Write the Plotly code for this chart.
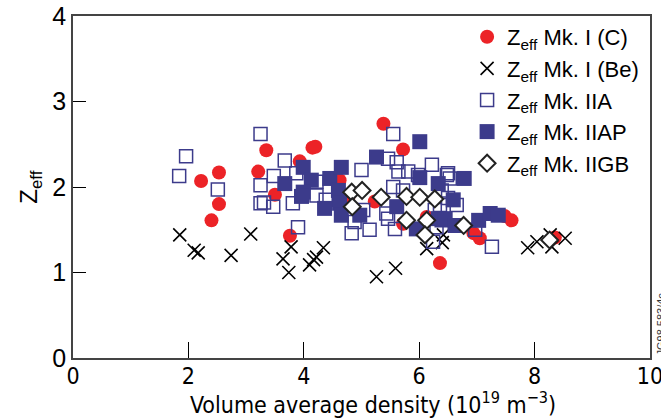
import plotly.graph_objects as go

# Mk. I (C) - red circles
c_x = [2.22, 2.53, 2.53, 2.40, 3.35, 4.15, 4.20, 3.93, 3.21, 3.50, 4.62, 3.76, 4.77,
       5.38, 5.72, 5.23, 5.72, 6.13, 6.36, 7.60, 7.48, 6.94, 7.05, 8.35]
c_y = [2.07, 2.17, 1.80, 1.61, 2.43, 2.46, 2.47, 2.30, 2.18, 1.91, 2.08, 1.43, 1.87,
       2.74, 2.44, 1.83, 1.57, 1.65, 1.11, 1.61, 1.66, 1.46, 1.40, 1.41]

# Mk. I (Be) - crosses
be_x = [1.85, 2.10, 2.17, 2.74, 3.08, 3.78, 3.64, 3.74, 4.10, 4.17, 4.22, 4.34, 5.26,
        5.59, 6.13, 6.42, 6.40, 7.88, 8.04, 8.27, 8.30, 8.53]
be_y = [1.44, 1.26, 1.23, 1.20, 1.45, 1.30, 1.16, 1.00, 1.09, 1.15, 1.18, 1.29, 0.95,
        1.05, 1.28, 1.44, 1.35, 1.29, 1.36, 1.44, 1.30, 1.40]

# Mk. IIA - open squares
a_x = [1.96, 1.84, 2.51, 3.25, 3.25, 3.25, 3.67, 3.48, 3.31, 3.47, 3.81, 3.87, 3.90,
       4.22, 4.22, 4.38, 4.83, 5.00, 5.55, 5.46, 5.61, 5.64, 5.81, 6.22, 5.98, 6.48,
       5.55, 6.39, 5.03, 4.88, 5.43, 5.46, 5.58, 5.14, 6.27, 6.39, 6.24, 6.36, 6.50,
       6.53, 6.65, 6.50, 6.97, 7.26, 5.72, 6.30]
a_y = [2.36, 2.13, 1.97, 2.62, 2.02, 1.81, 2.31, 2.13, 1.82, 1.77, 1.81, 2.16, 1.53,
       2.06, 1.90, 1.85, 1.46, 2.20, 2.62, 2.33, 2.29, 2.18, 2.18, 2.26, 2.14, 2.14,
       2.00, 1.96, 1.73, 1.59, 1.69, 1.63, 1.51, 1.50, 1.73, 1.61, 1.36, 1.79, 2.16,
       2.10, 1.79, 1.87, 1.50, 1.30, 1.96, 1.53]

# Mk. IIAP - filled squares
ap_x = [3.99, 3.67, 4.13, 3.99, 3.96, 4.45, 4.65, 4.60, 4.36, 4.62, 4.65, 4.97, 5.26,
        6.01, 6.01, 6.33, 5.61, 5.95, 6.33, 6.45, 6.78, 6.59, 6.62, 7.03, 7.23, 7.37]
ap_y = [2.23, 2.04, 2.08, 1.94, 1.89, 2.10, 2.23, 1.96, 1.75, 1.81, 1.67, 1.67, 2.35,
        2.53, 2.11, 2.04, 1.77, 1.51, 1.63, 1.63, 2.10, 1.85, 1.55, 1.61, 1.69, 1.67]

# Mk. IIGB - open diamonds
gb_x = [4.83, 5.01, 4.84, 5.34, 5.78, 6.01, 6.27, 5.78, 6.13, 6.10, 6.77, 8.26]
gb_y = [1.94, 1.96, 1.77, 1.88, 1.89, 1.88, 1.86, 1.61, 1.61, 1.44, 1.55, 1.38]

x_ticks = [0, 2, 4, 6, 8, 10]
y_ticks = [0, 1, 2, 3, 4]

RED = "#ec2327"
NAVY = "#3c3b8b"

fig = go.Figure()
fig.add_trace(go.Scatter(x=c_x, y=c_y, mode="markers", name="Z<sub>eff</sub> Mk. I (C)",
                         marker=dict(symbol="circle", size=14, color=RED, line=dict(width=0))))
fig.add_trace(go.Scatter(x=be_x, y=be_y, mode="markers", name="Z<sub>eff</sub> Mk. I (Be)",
                         marker=dict(symbol="x-thin", size=13, color="black",
                                     line=dict(width=1.6, color="black"))))
fig.add_trace(go.Scatter(x=a_x, y=a_y, mode="markers", name="Z<sub>eff</sub> Mk. IIA",
                         marker=dict(symbol="square-open", size=13, color=NAVY,
                                     line=dict(width=1.5, color=NAVY))))
fig.add_trace(go.Scatter(x=ap_x, y=ap_y, mode="markers", name="Z<sub>eff</sub> Mk. IIAP",
                         marker=dict(symbol="square", size=15, color=NAVY, line=dict(width=0))))
fig.add_trace(go.Scatter(x=gb_x, y=gb_y, mode="markers", name="Z<sub>eff</sub> Mk. IIGB",
                         marker=dict(symbol="diamond", size=13, color="white",
                                     line=dict(width=2, color="#222222"))))

narrow = "Liberation Sans Narrow, DejaVu Sans Condensed, Liberation Sans, Arial, sans-serif"
reg = "Liberation Sans, Arial, sans-serif"

fig.update_layout(
    width=661, height=419,
    margin=dict(l=73, r=11, t=16, b=61, autoexpand=False),
    paper_bgcolor="white", plot_bgcolor="white",
    font=dict(family=reg, color="black", size=18),
    showlegend=True,
    legend=dict(x=0.683, y=1.0, xanchor="left", yanchor="top",
                bgcolor="rgba(0,0,0,0)", font=dict(size=22, family=reg),
                itemwidth=30, tracegroupgap=0),
    xaxis=dict(range=[0, 10], tickvals=x_ticks, ticks="inside", ticklen=16,
               tickwidth=1, tickcolor="black", showline=True, linecolor="#444444",
               linewidth=1.5, mirror=True, showgrid=False, zeroline=False,
               automargin=False, ticklabeloverflow="allow", ticklabelstandoff=-3,
               tickfont=dict(family=narrow, size=23)),
    yaxis=dict(range=[0, 4], tickvals=y_ticks, ticks="inside", ticklen=13,
               tickwidth=1, tickcolor="black", showline=True, linecolor="#444444",
               linewidth=1.5, mirror=True, showgrid=False, zeroline=False,
               automargin=False, tickfont=dict(family=reg, size=25)),
)

fig.add_annotation(text="Volume average density (10<sup>19</sup> m<sup>\u22123</sup>)",
                   xref="paper", yref="paper", x=0.52, y=-0.131, xanchor="center",
                   yanchor="middle", showarrow=False,
                   font=dict(family=narrow, size=23, color="black"))
fig.add_annotation(text="Z<sub>eff</sub>", xref="paper", yref="paper", x=-0.075, y=0.5,
                   xanchor="center", yanchor="middle", textangle=-90, showarrow=False,
                   font=dict(family=reg, size=24, color="black"))
fig.add_annotation(text="JG98.583/4c", xref="paper", yref="paper", x=1.0, y=0.0,
                   xanchor="left", yanchor="bottom", xshift=2, textangle=-90,
                   showarrow=False, font=dict(size=11, color="#333333", family=reg))

fig.write_html("out.html", config={"displayModeBar": False},
               post_script="document.body.style.margin='0';document.body.style.overflow='hidden';")
